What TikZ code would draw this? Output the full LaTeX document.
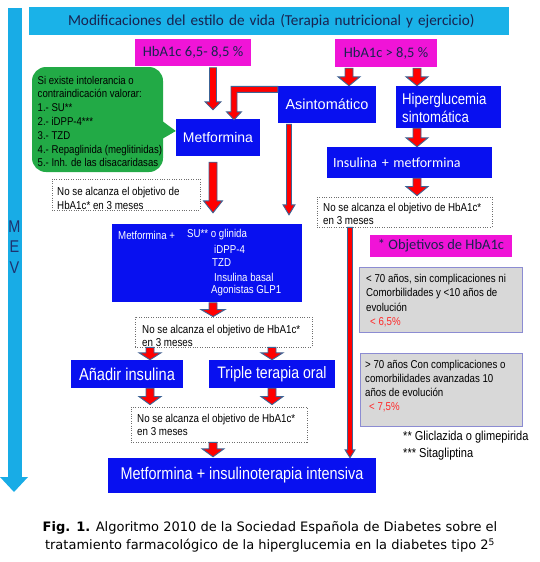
\documentclass[tikz,border=0pt]{standalone}
\usepackage{fontspec}
\setmainfont{Liberation Sans}
\newfontfamily\calfont{Carlito}
\newfontfamily\narfont[FakeStretch=0.85]{Liberation Sans}
\newfontfamily\capfont{DejaVu Sans}
\usetikzlibrary{calc}
\definecolor{cyanb}{RGB}{26,178,232}
\definecolor{barb}{RGB}{24,172,230}
\definecolor{magb}{RGB}{240,20,215}
\definecolor{blueb}{RGB}{8,16,240}
\definecolor{greenb}{RGB}{34,170,70}
\definecolor{grayb}{RGB}{216,216,216}
\definecolor{grayline}{RGB}{140,140,210}
\definecolor{navy}{RGB}{25,35,80}
\definecolor{mevc}{RGB}{30,50,110}
\definecolor{steel}{RGB}{60,100,150}
\definecolor{redt}{RGB}{255,40,40}
\definecolor{dotc}{RGB}{110,110,110}
\newcommand\fs[2]{\fontsize{#1}{#2}\selectfont}
% vertical block arrow: start, end, half shaft, half head, head length
\newcommand\barr[5]{\filldraw[barrow] let \p1=#1, \p2=#2 in
  (\x1-#3,\y1) -- (\x1+#3,\y1) -- (\x1+#3,\y2+#5) -- (\x1+#4,\y2+#5) -- (\x1,\y2)
  -- (\x1-#4,\y2+#5) -- (\x1-#3,\y2+#5) -- cycle;}
\tikzset{
  barrow/.style={fill=red, draw=steel, line width=0.9pt, line join=miter},
  bluebox/.style={fill=blueb, text=white, inner sep=0pt, align=center},
  magbox/.style={fill=magb, text=navy, inner sep=0pt, align=center, font=\calfont\fs{14.5}{16}},
  dotbox/.style={draw=dotc, fill=white, line width=0.8pt, dash pattern=on 1pt off 1.4pt, inner sep=0pt},
  graybox/.style={draw=grayline, fill=grayb, line width=0.9pt, inner sep=0pt},
  smalltxt/.style={anchor=west, inner sep=0pt, align=left, font=\narfont\fs{11.5}{13.6}},
  boxtxt/.style={anchor=west, inner sep=0pt, text=white, align=left, font=\narfont\fs{11.4}{13.6}},
  mev/.style={inner sep=0pt, text=mevc, font=\narfont\fs{17}{17}}
}
\begin{document}
\begin{tikzpicture}[x=1pt,y=-1pt]
\useasboundingbox (0,0) rectangle (540,562);
% MEV bar
\fill[barb] (8,8) rectangle (22,477);
\fill[barb] (0,477) -- (28,477) -- (14,492) -- cycle;
\node[mev] (m1) at (14.5,227) {M};
\node[mev] (m2) at (14.5,247) {E};
\node[mev] (m3) at (14.5,268) {V};
% banner
\node[fill=cyanb, text=navy, inner xsep=0pt, inner ysep=0pt, minimum height=28pt, text width=480pt, align=left, font=\calfont\fs{15.2}{16}] (banner) at (269,21) {\hspace*{39pt}Modificaciones del estilo de vida (Terapia nutricional y ejercicio)};
% HbA1c boxes
\node[magbox, minimum width=116pt, minimum height=27pt, font=\calfont\fs{14.6}{16}] (hb1) at (193,52.5) {HbA1c 6,5- 8,5 \%};
\node[magbox, minimum width=102pt, minimum height=28pt] (hb2) at (386,53) {HbA1c > 8,5 \%};
% callout
\node[fill=greenb, rounded corners=14pt, minimum width=131pt, minimum height=105pt, inner sep=0pt] (callout) at (97.5,119.5) {};
\node[bluebox, minimum width=84pt, minimum height=37pt, font=\fs{14}{16}] (met) at (218,137.5) {Metformina};
\fill[greenb] ($(callout.east)+(-3,0)$) -- ($(met.west)+(0,-6.5)$) -- ($(callout.east)+(-2,20)$) -- cycle;
\node[smalltxt, font=\narfont\fs{11.3}{13.8}] (calltxt) at (37.5,121.5) {Si existe intolerancia o\\contraindicación valorar:\\1.- SU**\\2.- iDPP-4***\\3.- TZD\\4.- Repaglinida (meglitinidas)\\5.- Inh. de las disacaridasas};
% top blue boxes
\node[bluebox, minimum width=98pt, minimum height=37pt, font=\fs{14.5}{16}] (asin) at (327,104.5) {Asintomático};
\node[bluebox, minimum width=105pt, minimum height=42pt] (hyper) at (448.5,107) {};
\node[boxtxt, font=\narfont\fs{15.5}{18.5}] (hypertxt) at (402,108) {Hiperglucemia\\sintomática};
\node[bluebox, minimum height=31pt, inner xsep=6pt, text width=153pt, align=left, font=\calfont\fs{14}{16}] (ins) at (409.5,162.5) {Insulina + metformina};
% dotted boxes
\node[dotbox, minimum width=148pt, minimum height=31pt] (dot1) at (126,194.5) {};
\node[smalltxt] (dot1t) at (57,198.5) {No se alcanza el objetivo de\\HbA1c* en 3 meses};
\node[dotbox, minimum width=175pt, minimum height=30pt] (dot2) at (404.5,212) {};
\node[smalltxt] (dot2t) at (323,214) {No se alcanza el objetivo de HbA1c*\\en 3 meses};
% big box
\node[bluebox, minimum width=190pt, minimum height=78pt] (big) at (207,263) {};
\node[boxtxt] (b1a) at (118,235) {Metformina +};
\node[boxtxt] (b1b) at (187,235) {SU** o glinida};
\node[boxtxt] (b2) at (214,249) {iDPP-4};
\node[boxtxt] (b3) at (212,263) {TZD};
\node[boxtxt] (b4) at (214,277) {Insulina basal};
\node[boxtxt] (b5) at (211,291) {Agonistas GLP1};
% objectives
\node[fill=magb, text=navy, inner sep=0pt, minimum width=142pt, minimum height=22pt, font=\calfont\fs{14.5}{16}] (obj) at (441,246) {* Objetivos de HbA1c};
\node[graybox, minimum width=163pt, minimum height=65pt] (g1) at (440.5,299.5) {};
\node[smalltxt, font=\narfont\fs{11.4}{14.3}] (g1t) at (366,300.5) {< 70 años, sin complicaciones ni\\Comorbilidades y <10 años de\\evolución\\\hspace*{4pt}\textcolor{redt}{< 6,5\%}};
\node[graybox, minimum width=162pt, minimum height=73pt] (g2) at (441,389.5) {};
\node[smalltxt, font=\narfont\fs{11.4}{14.1}] (g2t) at (365,386) {> 70 años Con complicaciones o\\comorbilidades avanzadas 10\\años de evolución\\\hspace*{4pt}\textcolor{redt}{< 7,5\%}};
% lower part
\node[dotbox, minimum width=177pt, minimum height=30pt] (dot3) at (223.5,332) {};
\node[smalltxt] (dot3t) at (142,336) {No se alcanza el objetivo de HbA1c*\\en 3 meses};
\node[bluebox, minimum width=112pt, minimum height=28pt, font=\narfont\fs{17.2}{18}] (add) at (127,374) {Añadir insulina};
\node[bluebox, minimum width=126pt, minimum height=28pt, font=\narfont\fs{16.6}{18}] (triple) at (272,374) {Triple terapia oral};
\node[dotbox, minimum width=176pt, minimum height=35pt] (dot4) at (219,424.5) {};
\node[smalltxt] (dot4t) at (137,425) {No se alcanza el objetivo de HbA1c*\\en 3 meses};
\node[bluebox, minimum width=268pt, minimum height=35pt, font=\narfont\fs{17}{18}] (final) at (242,475.5) {Metformina + insulinoterapia intensiva};
\node[smalltxt, font=\narfont\fs{13}{17}] (foot) at (403,445.5) {** Gliclazida o glimepirida\\*** Sitagliptina};
% arrows
\barr{($(hb1.south)+(20,1.5)$)}{($(met.north)+(-5,-9)$)}{3.5pt}{8pt}{8pt}
\filldraw[barrow] let \p1=(asin.north west), \p2=(met.north) in
  (\x1,\y1-0.5pt) -- (\x1,\y1-6.5pt) -- (\x2+19pt,\y1-6.5pt) -- (\x2+19pt,\y2+7pt) -- (\x2+23.5pt,\y2+7pt)
  -- (\x2+16pt,\y2-1pt) -- (\x2+8.5pt,\y2+7pt) -- (\x2+13pt,\y2+7pt) -- (\x2+13pt,\y1-0.5pt) -- cycle;
\barr{($(hb2.south)+(-37,1)$)}{($(asin.north)+(22,0)$)}{4pt}{11pt}{9pt}
\barr{($(hb2.south)+(31,1)$)}{($(hyper.north)+(-31.5,0)$)}{4pt}{11pt}{9pt}
\barr{($(asin.south)+(-38,1)$)}{($(big.north)+(82,-9)$)}{2.5pt}{6pt}{10pt}
\barr{($(met.south)+(-5,6)$)}{($(big.north)+(6,-11)$)}{4pt}{9.5pt}{12pt}
\barr{($(hyper.south)+(-31.5,0)$)}{($(ins.north)+(7.5,0)$)}{4pt}{11pt}{9pt}
\barr{($(ins.south)+(7.5,0)$)}{($(dot2.north)+(12.5,-1)$)}{4pt}{11pt}{9pt}
\barr{($(dot2.south)+(-54.5,0)$)}{($(final.north)+(108,0)$)}{2.5pt}{5pt}{8pt}
\barr{($(big.south)+(6,0.5)$)}{($(dot3.north)+(-10.5,0)$)}{4pt}{12pt}{7pt}
\barr{($(dot3.south)+(-73.5,0)$)}{($(add.north)+(23,0)$)}{4pt}{11pt}{7pt}
\barr{($(dot3.south)+(48.5,0)$)}{($(triple.north)+(0,0)$)}{4pt}{11pt}{7pt}
\barr{($(add.south)+(23,0)$)}{($(dot4.north)+(-69,-2)$)}{4pt}{11pt}{8pt}
\barr{($(triple.south)+(0,0)$)}{($(dot4.north)+(53,-2)$)}{4pt}{11pt}{8pt}
\barr{($(dot4.south)+(-6,0)$)}{($(final.north)+(-29,-1)$)}{4pt}{11pt}{8pt}
% caption
\node[inner sep=0pt, font=\capfont\fs{13}{18.5}, align=center] (cap) at (270,537) {\textbf{Fig. 1.} Algoritmo 2010 de la Sociedad Española de Diabetes sobre el\\tratamiento farmacológico de la hiperglucemia en la diabetes tipo 2\textsuperscript{5}};
\end{tikzpicture}
\end{document}
